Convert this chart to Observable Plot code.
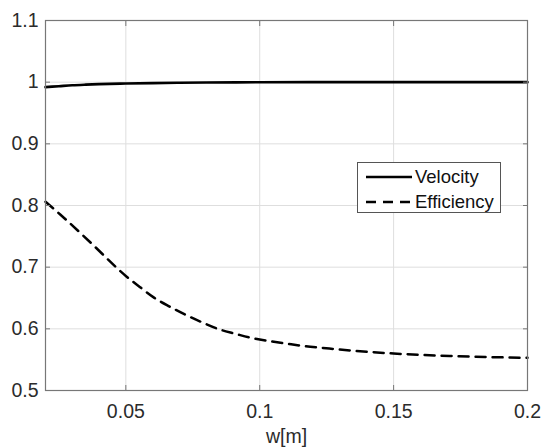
<!DOCTYPE html>
<html>
<head>
<meta charset="utf-8">
<script src="https://cdn.jsdelivr.net/npm/d3@7"></script>
<script src="https://cdn.jsdelivr.net/npm/@observablehq/plot@0.6"></script>
<style>
  html, body { margin: 0; padding: 0; background: #fff; }
  #wrap { position: relative; width: 544px; height: 447px; font-family: "Liberation Sans", Arial, sans-serif; }
  #legend { position: absolute; left: 357px; top: 162px; width: 142px; height: 49px; background: #fff; border: 1px solid #555; }
  #legend .row { position: absolute; left: 7px; height: 20px; display: flex; align-items: center; font-size: 18.5px; color: #111; white-space: nowrap; }
  #legend svg { margin-right: 2px; }
</style>
</head>
<body>
<div id="wrap"></div>
<script>
// Data
const velocityW = [0.02, 0.025, 0.03, 0.035, 0.04, 0.05, 0.06, 0.07, 0.08, 0.1, 0.12, 0.15, 0.2];
const velocityV = [0.992, 0.9935, 0.995, 0.996, 0.9968, 0.9978, 0.9985, 0.999, 0.9994, 0.9998, 1.0, 1.0, 1.0];

const efficiencyW = [0.02, 0.0256, 0.0368, 0.0502, 0.0552, 0.0604, 0.0664, 0.0722, 0.0782, 0.0843, 0.0909, 0.0971, 0.1037, 0.110, 0.1166, 0.1236, 0.136, 0.15, 0.171, 0.2];
const efficiencyV = [0.806, 0.785, 0.740, 0.685, 0.668, 0.651, 0.636, 0.623, 0.611, 0.600, 0.592, 0.585, 0.580, 0.576, 0.572, 0.569, 0.564, 0.560, 0.556, 0.553];

const xTicks = [0.05, 0.1, 0.15, 0.2];
const xTickLabels = ["0.05", "0.1", "0.15", "0.2"];
const yTicks = [0.5, 0.6, 0.7, 0.8, 0.9, 1.0, 1.1];
const yTickLabels = ["0.5", "0.6", "0.7", "0.8", "0.9", "1", "1.1"];
const seriesNames = ["Velocity", "Efficiency"];
const xLabel = "w[m]";

const velocity = velocityW.map((w, i) => ({w, v: velocityV[i]}));
const efficiency = efficiencyW.map((w, i) => ({w, v: efficiencyV[i]}));

const xFmt = d => xTickLabels[xTicks.indexOf(d)];
const yFmt = d => yTickLabels[yTicks.findIndex(t => Math.abs(t - d) < 1e-9)];

const axisColor = "#777";
const textColor = "#2b2b2b";

const chart = Plot.plot({
  width: 544,
  height: 447,
  marginLeft: 45,
  marginRight: 17,
  marginTop: 20,
  marginBottom: 57,
  style: {fontFamily: "'Liberation Sans', Arial, sans-serif", fontSize: "19.5px", color: textColor, background: "#fff"},
  x: {domain: [0.02, 0.2]},
  y: {domain: [0.5, 1.1]},
  marks: [
    Plot.gridX(xTicks, {stroke: "#dedede", strokeOpacity: 1}),
    Plot.gridY(yTicks, {stroke: "#dedede", strokeOpacity: 1}),
    Plot.line(efficiency, {x: "w", y: "v", stroke: "#000", strokeWidth: 2.5, strokeDasharray: "10,7", curve: "monotone-x"}),
    Plot.line(velocity, {x: "w", y: "v", stroke: "#000", strokeWidth: 2.6, curve: "monotone-x"}),
    Plot.frame({stroke: axisColor, strokeWidth: 1.2}),
    // inward ticks
    Plot.axisX(xTicks, {anchor: "bottom", tickSize: -5, tickFormat: () => "", stroke: axisColor, label: null}),
    Plot.axisX(xTicks, {anchor: "top", tickSize: -5, tickFormat: () => "", stroke: axisColor, label: null}),
    Plot.axisY(yTicks, {anchor: "left", tickSize: -5, tickFormat: () => "", stroke: axisColor, label: null}),
    Plot.axisY(yTicks, {anchor: "right", tickSize: -5, tickFormat: () => "", stroke: axisColor, label: null}),
    // tick labels
    Plot.axisX(xTicks, {anchor: "bottom", tickSize: 0, tickPadding: 14, tickFormat: xFmt, fill: textColor, fontSize: 19.5, label: xLabel, labelAnchor: "center", labelArrow: "none", labelOffset: 52}),
    Plot.axisY(yTicks, {anchor: "left", tickSize: 0, tickPadding: 7, tickFormat: yFmt, fill: textColor, fontSize: 19.5, label: null})
  ]
});

const wrap = document.getElementById("wrap");
wrap.appendChild(chart);

const legend = document.createElement("div");
legend.id = "legend";
const dashes = [null, "10,7"];
seriesNames.forEach((name, i) => {
  const row = document.createElement("div");
  row.className = "row";
  row.style.top = (i === 0 ? 4 : 28.5) + "px";
  row.innerHTML = `<svg width="48" height="6"><line x1="1" y1="3" x2="47" y2="3" stroke="#000" stroke-width="2.6" ${dashes[i] ? `stroke-dasharray="${dashes[i]}"` : ""}/></svg><span>${name}</span>`;
  legend.appendChild(row);
});
wrap.appendChild(legend);
</script>
</body>
</html>
